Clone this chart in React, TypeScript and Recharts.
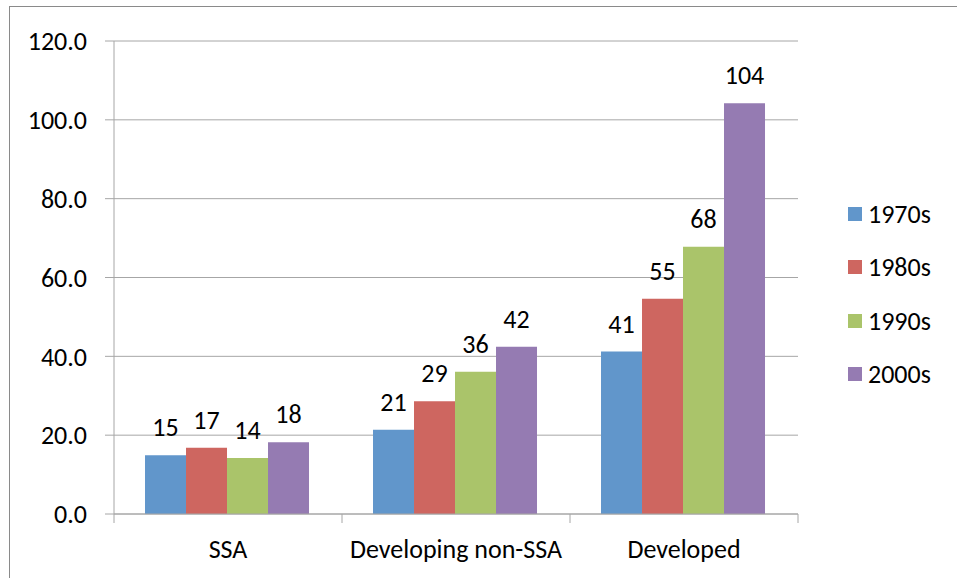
import React from 'react'
import { BarChart, Bar, XAxis, YAxis, CartesianGrid, Legend, LabelList } from 'recharts'

const categories = ['SSA', 'Developing non-SSA', 'Developed']
const decades = ['1970s', '1980s', '1990s', '2000s']
const v1970s = [14.9, 21.4, 41.2]
const v1980s = [16.8, 28.6, 54.6]
const v1990s = [14.2, 36.1, 67.8]
const v2000s = [18.2, 42.4, 104.2]
const yTicks = [0, 20, 40, 60, 80, 100, 120]

const COLORS = ['#6196CB', '#CE6660', '#AAC46A', '#957BB2']
const FONT = 'Carlito, Lato, sans-serif'
const FONT_SIZE = 26
const AXIS_GRAY = '#a6a6a6'

const series = [v1970s, v1980s, v1990s, v2000s]

const data = categories.map((name, i) => {
  const row: Record<string, string | number> = { name }
  decades.forEach((d, j) => {
    row[d] = series[j][i]
  })
  return row
})

function CategoryTick(props: any) {
  const { x, y, payload, index, visibleTicksCount } = props
  const half = payload?.offset ?? 114
  const last = index === (visibleTicksCount ?? categories.length) - 1
  return (
    <g>
      <line x1={x - half} x2={x - half} y1={y} y2={y + 9} stroke={AXIS_GRAY} />
      {last && <line x1={x + half} x2={x + half} y1={y} y2={y + 9} stroke={AXIS_GRAY} />}
      <text x={x} y={y + 44} textAnchor="middle" fill="#000" fontSize={FONT_SIZE} fontFamily={FONT}>
        {payload.value}
      </text>
    </g>
  )
}

function LegendBox() {
  return (
    <div style={{ width: 110, fontFamily: FONT, fontSize: FONT_SIZE, color: '#000' }}>
      {decades.map((d, i) => (
        <div key={d} style={{ height: 53.5, display: 'flex', alignItems: 'center' }}>
          <span style={{ width: 14, height: 14, background: COLORS[i], marginRight: 6, display: 'inline-block' }} />
          <span>{d}</span>
        </div>
      ))}
    </div>
  )
}

export default function App() {
  return (
    <div style={{ position: 'absolute', left: 0, top: 0, width: 957, height: 578, background: '#fff', overflow: 'hidden' }}>
      <div
        style={{
          position: 'absolute',
          left: 9,
          top: 6,
          width: 948,
          height: 572,
          boxSizing: 'border-box',
          borderLeft: '1px solid #8a8a8a',
          borderTop: '1px solid #8a8a8a',
        }}
      />
      <div style={{ position: 'absolute', left: 0, top: 0 }}>
        <BarChart
          width={957}
          height={578}
          data={data}
          margin={{ top: 41, right: 49, left: 0, bottom: 14 }}
          barCategoryGap="13.6%"
          barGap={0}
        >
          <CartesianGrid vertical={false} stroke={AXIS_GRAY} />
          <XAxis
            dataKey="name"
            height={50}
            tickLine={false}
            tickSize={0}
            tickMargin={0}
            stroke={AXIS_GRAY}
            tick={<CategoryTick />}
            interval={0}
          />
          <YAxis
            width={114}
            domain={[0, 120]}
            ticks={yTicks}
            tickFormatter={(v: number) => v.toFixed(1)}
            tickSize={9}
            tickMargin={18}
            stroke={AXIS_GRAY}
            tick={{ fill: '#000', fontSize: FONT_SIZE, fontFamily: FONT }}
          />
          <Legend
            layout="vertical"
            align="right"
            verticalAlign="top"
            content={<LegendBox />}
            wrapperStyle={{ top: 187, left: 848, right: 'auto', width: 110 }}
          />
          {decades.map((d, i) => (
            <Bar key={d} dataKey={d} fill={COLORS[i]} isAnimationActive={false}>
              <LabelList
                dataKey={d}
                position="top"
                offset={19}
                formatter={(v: any) => Math.round(Number(v))}
                fill="#000"
                fontSize={FONT_SIZE}
                fontFamily={FONT}
              />
            </Bar>
          ))}
        </BarChart>
      </div>
    </div>
  )
}
